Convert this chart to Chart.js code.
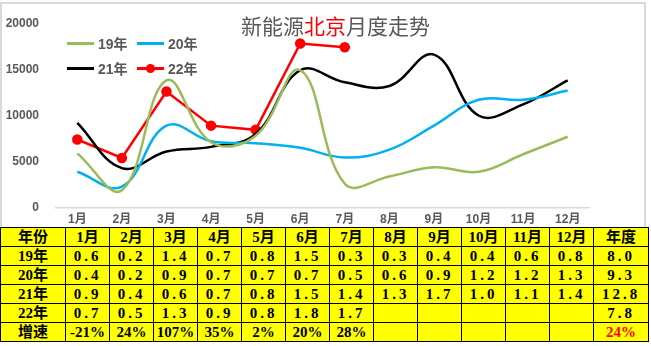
<!DOCTYPE html>
<html>
<head>
<meta charset="utf-8">
<script src="https://cdn.jsdelivr.net/npm/chart.js@4/dist/chart.umd.min.js"></script>
<style>
body { margin: 0; background: #fff; font-family: "Liberation Sans", "Noto Sans CJK SC", sans-serif; }
#frame { position: absolute; left: 0; top: 2px; width: 646px; height: 227px; box-sizing: border-box; border: 2px solid #d9d9d9; }
#wrap { position: absolute; left: 0; top: 0; width: 651px; height: 231px; }
#title { position: absolute; left: 241px; top: 12px; font-size: 21px; line-height: 26px; color: #595959; font-family: "Noto Sans CJK SC", sans-serif; white-space: nowrap; }
#title .red { color: #ff0000; }
.lg { position: absolute; height: 20px; display: flex; align-items: center; font-size: 14px; font-weight: bold; color: #595959; font-family: "Liberation Sans", "Noto Sans CJK SC", sans-serif; }
.lg .smp { position: relative; width: 27px; height: 3px; margin-right: 4px; }
.lg .dot { position: absolute; left: 9px; top: -3px; width: 9px; height: 9px; border-radius: 50%; }
#tbl { position: absolute; left: 0; top: 227px; width: 648px; border-collapse: collapse; background: #ffff00; table-layout: fixed;
  font-family: "Liberation Serif", "Noto Sans CJK SC", serif; font-weight: bold; font-size: 15px; color: #000; }
#tbl td { border: 1.5px solid #000; text-align: center; padding: 0; line-height: 17px; }
#tbl tr { height: 19px; }
#tbl tr:first-child { height: 22px; }
#tbl td.num { letter-spacing: 3px; }
#tbl td.red { color: #ff0000; }
</style>
</head>
<body>
<div id="frame"></div>
<div id="wrap"><canvas id="myChart"></canvas></div>
<div id="title">新能源<span class="red">北京</span>月度走势</div>
<div id="legend"></div>
<table id="tbl"></table>
<script>
var months = ["1月", "2月", "3月", "4月", "5月", "6月", "7月", "8月", "9月", "10月", "11月", "12月"];
var seriesNames = ["19年", "20年", "21年", "22年"];
var y19 = [5900, 1900, 13800, 7100, 7800, 14900, 2600, 3400, 4400, 3900, 5800, 7700];
var y20 = [3900, 2300, 8900, 7200, 7000, 6500, 5450, 6300, 8900, 11700, 11700, 12700];
var y21 = [9200, 4300, 6100, 6600, 8000, 14900, 13600, 13200, 16600, 10000, 11200, 13800];
var y22 = [7400, 5400, 12600, 8900, 8450, 17800, 17400];
var yTicks = [0, 5000, 10000, 15000, 20000];

// table (万辆)
var t19 = [0.6, 0.2, 1.4, 0.7, 0.8, 1.5, 0.3, 0.3, 0.4, 0.4, 0.6, 0.8];
var t20 = [0.4, 0.2, 0.9, 0.7, 0.7, 0.7, 0.5, 0.6, 0.9, 1.2, 1.2, 1.3];
var t21 = [0.9, 0.4, 0.6, 0.7, 0.8, 1.5, 1.4, 1.3, 1.7, 1.0, 1.1, 1.4];
var t22 = [0.7, 0.5, 1.3, 0.9, 0.8, 1.8, 1.7];
var yearTotals = [8.0, 9.3, 12.8, 7.8];
var growth = ["-21%", "24%", "107%", "35%", "2%", "20%", "28%"];
var growthTotal = "24%";

var colors = ['#9bbb59', '#00b0f0', '#000000', '#ff0000'];

function buildChart() {
	var ctx = document.getElementById('myChart').getContext('2d');
	var chart = new Chart(ctx, {
    type: 'line',
    data: {
        labels: months,
        datasets: [
            { label: seriesNames[0], data: y19, borderColor: colors[0], backgroundColor: colors[0], tension: 0.4, pointRadius: 0, borderWidth: 2.5 },
            { label: seriesNames[1], data: y20, borderColor: colors[1], backgroundColor: colors[1], tension: 0.4, pointRadius: 0, borderWidth: 2.5 },
            { label: seriesNames[2], data: y21, borderColor: colors[2], backgroundColor: colors[2], tension: 0.4, pointRadius: 0, borderWidth: 2.5 },
            { label: seriesNames[3], data: y22, borderColor: colors[3], backgroundColor: colors[3], tension: 0, pointRadius: 4, borderWidth: 2.5 }
        ]
    },
    options: {
        responsive: true,
        maintainAspectRatio: false,
        animation: false,
        devicePixelRatio: 1,
        layout: { padding: { left: 0, right: 61, top: 21, bottom: 0 } },
        plugins: { legend: { display: false }, title: { display: false }, tooltip: { enabled: false } },
        scales: {
            x: {
                offset: true,
                grid: { display: false, drawTicks: false },
                border: { display: false },
                ticks: { color: '#595959', padding: 5, font: { size: 12, weight: 'bold', family: '"Liberation Sans", "Noto Sans CJK SC"' }, maxRotation: 0 },
                afterFit: function(s) { s.height = 21; }
            },
            y: {
                min: yTicks[0],
                max: yTicks[yTicks.length - 1],
                afterBuildTicks: function(s) { s.ticks = yTicks.map(function(v) { return { value: v }; }); },
                grid: { drawTicks: false, color: function(c) { return c.tick && c.tick.value === 0 ? '#d9d9d9' : 'rgba(0,0,0,0)'; }, lineWidth: 1.5 },
                border: { display: false },
                ticks: { color: '#595959', padding: 16, font: { size: 12, weight: 'bold', family: '"Liberation Sans"' },
                    callback: function(v) { return String(v); } },
                afterFit: function(s) { s.width = 55; }
            }
        }
    }
	});
	return chart;
}

var chart = buildChart();

// legend, 2 columns inside the plot
var legend = document.getElementById('legend');
chart.data.datasets.forEach(function(ds, i) {
	var item = document.createElement('div');
	item.className = 'lg';
	item.style.left = (67 + (i % 2) * 70) + 'px';
	item.style.top = (33 + Math.floor(i / 2) * 25) + 'px';
	var smp = document.createElement('span');
	smp.className = 'smp';
	smp.style.background = ds.borderColor;
	if (ds.pointRadius > 0) {
		var dot = document.createElement('span');
		dot.className = 'dot';
		dot.style.background = ds.borderColor;
		smp.appendChild(dot);
	}
	item.appendChild(smp);
	item.appendChild(document.createTextNode(ds.label));
	legend.appendChild(item);
});

// data table
var tbl = document.getElementById('tbl');
var colg = document.createElement('colgroup');
var widths = [65].concat(months.map(function() { return 44; })).concat([55]);
widths.forEach(function(w) { var c = document.createElement('col'); c.style.width = w + 'px'; colg.appendChild(c); });
tbl.appendChild(colg);

function addRow(cells, numIdx, redIdx) {
	var tr = document.createElement('tr');
	cells.forEach(function(txt, j) {
		var td = document.createElement('td');
		td.textContent = txt;
		if (numIdx && j > 0 && txt !== '') td.className = 'num';
		if (redIdx === j) td.className = 'red';
		tr.appendChild(td);
	});
	tbl.appendChild(tr);
}
function fmtRow(name, vals, total) {
	var cells = [name];
	for (var k = 0; k < months.length; k++) cells.push(k < vals.length ? vals[k].toFixed(1) : '');
	cells.push(total.toFixed(1));
	return cells;
}
addRow(["年份"].concat(months).concat(["年度"]), false);
addRow(fmtRow(seriesNames[0], t19, yearTotals[0]), true);
addRow(fmtRow(seriesNames[1], t20, yearTotals[1]), true);
addRow(fmtRow(seriesNames[2], t21, yearTotals[2]), true);
addRow(fmtRow(seriesNames[3], t22, yearTotals[3]), true);
var gcells = ["增速"];
for (var k = 0; k < months.length; k++) gcells.push(k < growth.length ? growth[k] : '');
gcells.push(growthTotal);
addRow(gcells, false, months.length + 1);
</script>
</body>
</html>
